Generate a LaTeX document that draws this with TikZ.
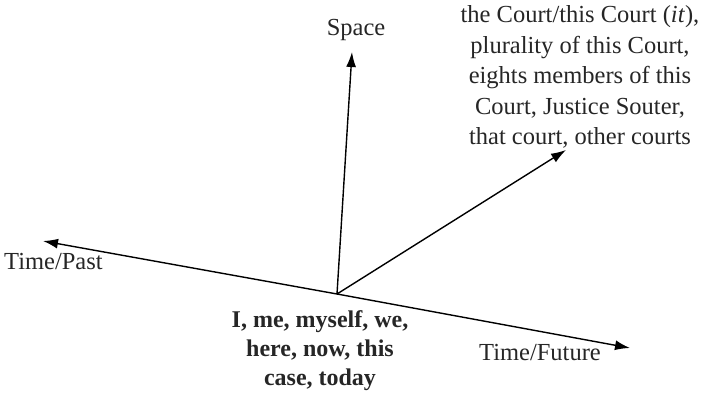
\documentclass[tikz,border=0pt]{standalone}
\usepackage{fontspec}
\setmainfont{Liberation Serif}
\usetikzlibrary{arrows.meta}
\begin{document}
\begin{tikzpicture}[x=1pt,y=1pt,
  axis/.style={line width=1.4pt,-{Latex[length=15pt,width=10pt]}},
  lbl/.style={inner sep=0pt,font=\fontsize{24.5}{30.5}\selectfont,text=black!85,align=center}]
\useasboundingbox (0,0) rectangle (703,393);
\coordinate (o) at (337,99);
\coordinate (sp) at (352,341);
\coordinate (ct) at (566,243);
\coordinate (pa) at (43,152);
\coordinate (fu) at (630,45);
\draw[axis] (o) -- (sp);
\draw[axis] (o) -- (ct);
\draw[axis] (o) -- (pa);
\draw[axis] (o) -- (fu);
\node[lbl] (space) at (356,363) {Space};
\node[lbl,anchor=west] (past) at (4,131) {Time/Past};
\node[lbl] (future) at (540,40) {Time/Future};
\node[lbl] (court) at (580,316) {the Court/this Court (\textit{it}),\\plurality of this Court,\\eights members of this\\Court, Justice Souter,\\that court, other courts};
\node[lbl,font=\fontsize{24}{29}\selectfont\bfseries] (self) at (320,42) {I, me, myself, we,\\here, now, this\\case, today};
\end{tikzpicture}
\end{document}
